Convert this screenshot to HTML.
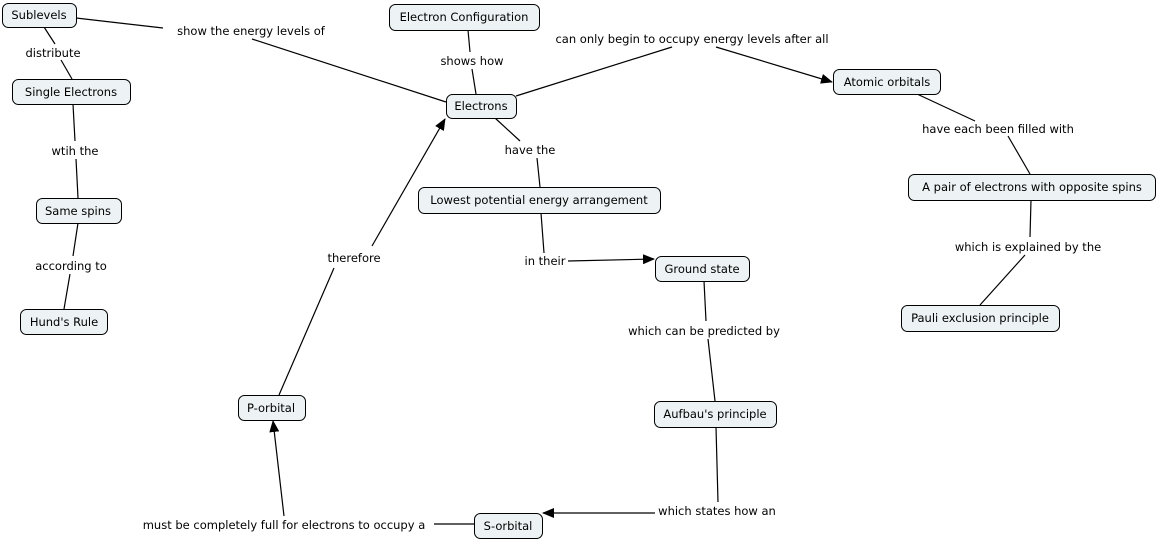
<!DOCTYPE html>
<html><head><meta charset="utf-8"><style>
html,body{margin:0;padding:0;background:#fff;}
svg text{font-family:"DejaVu Sans","Liberation Sans",sans-serif;font-size:11.5px;fill:#000;}
</style></head><body>
<svg width="1156" height="540" viewBox="0 0 1156 540" xmlns="http://www.w3.org/2000/svg">
<defs><marker id="a" markerWidth="12" markerHeight="10" refX="11" refY="5" orient="auto" markerUnits="userSpaceOnUse"><path d="M0,0 L12,5 L0,10 z" fill="#000"/></marker></defs>
<g stroke="#000" stroke-width="1.2" fill="none">
<line x1="76" y1="18" x2="163" y2="28"/><line x1="252" y1="39" x2="446" y2="102"/>
<line x1="44" y1="27" x2="55" y2="44"/><line x1="61" y1="60" x2="72" y2="79"/>
<line x1="468" y1="30" x2="470" y2="52"/><line x1="472" y1="69" x2="476" y2="94"/>
<line x1="516" y1="96" x2="672" y2="47"/><line x1="716" y1="47" x2="832" y2="82" marker-end="url(#a)"/>
<line x1="73" y1="104" x2="75" y2="141"/><line x1="76" y1="159" x2="78" y2="198"/>
<line x1="495" y1="118" x2="520" y2="141"/><line x1="537" y1="158" x2="540" y2="187"/>
<line x1="78" y1="223" x2="73" y2="256"/><line x1="70" y1="274" x2="64" y2="309"/>
<line x1="917" y1="94" x2="975" y2="121"/><line x1="1008" y1="136" x2="1030" y2="174"/>
<line x1="1031" y1="200" x2="1030" y2="237"/><line x1="1025" y1="255" x2="980" y2="305"/>
<line x1="541" y1="213" x2="544" y2="253"/><line x1="568" y1="261" x2="654" y2="259" marker-end="url(#a)"/>
<line x1="704" y1="281" x2="706" y2="321"/><line x1="708" y1="339" x2="715" y2="401"/>
<line x1="716" y1="427" x2="718" y2="502"/><line x1="655" y1="513" x2="543" y2="513" marker-end="url(#a)"/>
<line x1="474" y1="524" x2="434" y2="524"/><line x1="284" y1="516" x2="273" y2="421" marker-end="url(#a)"/>
<line x1="279" y1="395" x2="334" y2="268"/><line x1="372" y1="246" x2="445" y2="119" marker-end="url(#a)"/>
</g>
<g fill="#edf3f5" stroke="#000" stroke-width="1">
<rect x="2.5" y="3.5" width="74" height="24" rx="6"/>
<rect x="389.5" y="4.5" width="150" height="26" rx="6"/>
<rect x="446.5" y="94.5" width="70" height="24" rx="6"/>
<rect x="12.5" y="79.5" width="118" height="25" rx="6"/>
<rect x="36.5" y="198.5" width="85" height="25" rx="6"/>
<rect x="20.5" y="309.5" width="87" height="25" rx="6"/>
<rect x="833.5" y="69.5" width="107" height="25" rx="6"/>
<rect x="418.5" y="187.5" width="242" height="26" rx="6"/>
<rect x="908.5" y="174.5" width="247" height="26" rx="6"/>
<rect x="655.5" y="256.5" width="94" height="25" rx="6"/>
<rect x="901.5" y="305.5" width="158" height="26" rx="6"/>
<rect x="238.5" y="395.5" width="67" height="25" rx="6"/>
<rect x="654.5" y="401.5" width="122" height="26" rx="6"/>
<rect x="474.5" y="513.5" width="68" height="25" rx="6"/>
</g>
<g text-anchor="middle">
<text x="39" y="19">Sublevels</text>
<text x="464" y="21">Electron Configuration</text>
<text x="481" y="110">Electrons</text>
<text x="71" y="96">Single Electrons</text>
<text x="78" y="215">Same spins</text>
<text x="64" y="326">Hund's Rule</text>
<text x="887" y="86">Atomic orbitals</text>
<text x="539" y="204">Lowest potential energy arrangement</text>
<text x="1032" y="191">A pair of electrons with opposite spins</text>
<text x="702" y="273">Ground state</text>
<text x="980" y="322">Pauli exclusion principle</text>
<text x="271" y="412">P-orbital</text>
<text x="715" y="418">Aufbau's principle</text>
<text x="508" y="530">S-orbital</text>
<text x="251" y="35">show the energy levels of</text>
<text x="53" y="57">distribute</text>
<text x="472" y="65">shows how</text>
<text x="692" y="43">can only begin to occupy energy levels after all</text>
<text x="75" y="155">wtih the</text>
<text x="530" y="154">have the</text>
<text x="998" y="133">have each been filled with</text>
<text x="71" y="270">according to</text>
<text x="354" y="262">therefore</text>
<text x="545" y="265">in their</text>
<text x="1028" y="251">which is explained by the</text>
<text x="704" y="335">which can be predicted by</text>
<text x="717" y="515">which states how an</text>
<text x="284" y="529">must be completely full for electrons to occupy a</text>
</g>
</svg>
</body></html>
